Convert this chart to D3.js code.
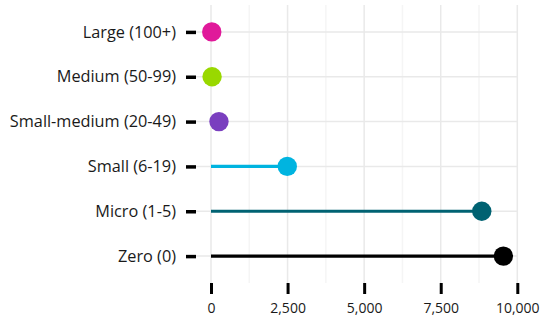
<!DOCTYPE html>
<html><head><meta charset="utf-8">
<script src="https://cdn.jsdelivr.net/npm/d3@7"></script>
<style>body{margin:0;background:#fff}svg{display:block}</style>
</head><body>
<svg id="c" width="542" height="320"></svg>
<script>
const categories = ["Large (100+)", "Medium (50-99)", "Small-medium (20-49)", "Small (6-19)", "Micro (1-5)", "Zero (0)"];
const values = [25, 35, 260, 2490, 8840, 9545];
const colors = ["#e0199a", "#99d800", "#7a3fbf", "#00b4e0", "#006272", "#000000"];
const xTicks = [0, 2500, 5000, 7500, 10000];
const xMinor = [1250, 3750, 6250, 8750];

const svg = d3.select("#c");
const panel = {left: 196, right: 518, top: 5, bottom: 283};
const x = d3.scaleLinear().domain([0, 10000]).range([211, 517.3]);
const y = d3.scalePoint().domain(categories).range([panel.top, panel.bottom]).padding(0.6);
const font = "'Open Sans', sans-serif";

const g = svg.append("g");
g.selectAll(".vmin").data(xMinor).join("line")
  .attr("x1", d => x(d)).attr("x2", d => x(d))
  .attr("y1", panel.top).attr("y2", panel.bottom)
  .attr("stroke", "#f5f5f5").attr("stroke-width", 1.5);
g.selectAll(".vmaj").data(xTicks).join("line")
  .attr("x1", d => x(d)).attr("x2", d => x(d))
  .attr("y1", panel.top).attr("y2", panel.bottom)
  .attr("stroke", "#e9e9e9").attr("stroke-width", 1.5);
g.selectAll(".hmaj").data(categories).join("line")
  .attr("x1", panel.left).attr("x2", panel.right)
  .attr("y1", d => y(d)).attr("y2", d => y(d))
  .attr("stroke", "#e9e9e9").attr("stroke-width", 1.5);

const yAxis = d3.axisLeft(y).tickSize(11).tickPadding(9);
const ya = svg.append("g").attr("transform", `translate(${panel.left},0)`).call(yAxis);
ya.select(".domain").remove();
ya.selectAll(".tick line").attr("stroke", "#000").attr("stroke-width", 3.5).attr("x2", -10);
ya.selectAll(".tick text").attr("font-family", font).attr("font-size", 16.3).attr("fill", "#1a1a1a");

const xAxis = d3.axisBottom(x).tickValues(xTicks).tickSize(11).tickPadding(9).tickFormat(d3.format(","));
const xa = svg.append("g").attr("transform", `translate(0,${panel.bottom})`).call(xAxis);
xa.select(".domain").remove();
xa.selectAll(".tick line").attr("stroke", "#000").attr("stroke-width", 3);
xa.selectAll(".tick text").attr("font-family", font).attr("font-size", 14).attr("fill", "#1a1a1a");

const data = categories.map((c, i) => ({c, v: values[i], col: colors[i]}));
svg.selectAll(".seg").data(data).join("line")
  .attr("x1", x(0)).attr("x2", d => x(d.v))
  .attr("y1", d => y(d.c)).attr("y2", d => y(d.c))
  .attr("stroke", d => d.col).attr("stroke-width", 3.2);
svg.selectAll(".dot").data(data).join("circle")
  .attr("cx", d => x(d.v)).attr("cy", d => y(d.c)).attr("r", 9.7)
  .attr("fill", d => d.col);
</script>
</body></html>
